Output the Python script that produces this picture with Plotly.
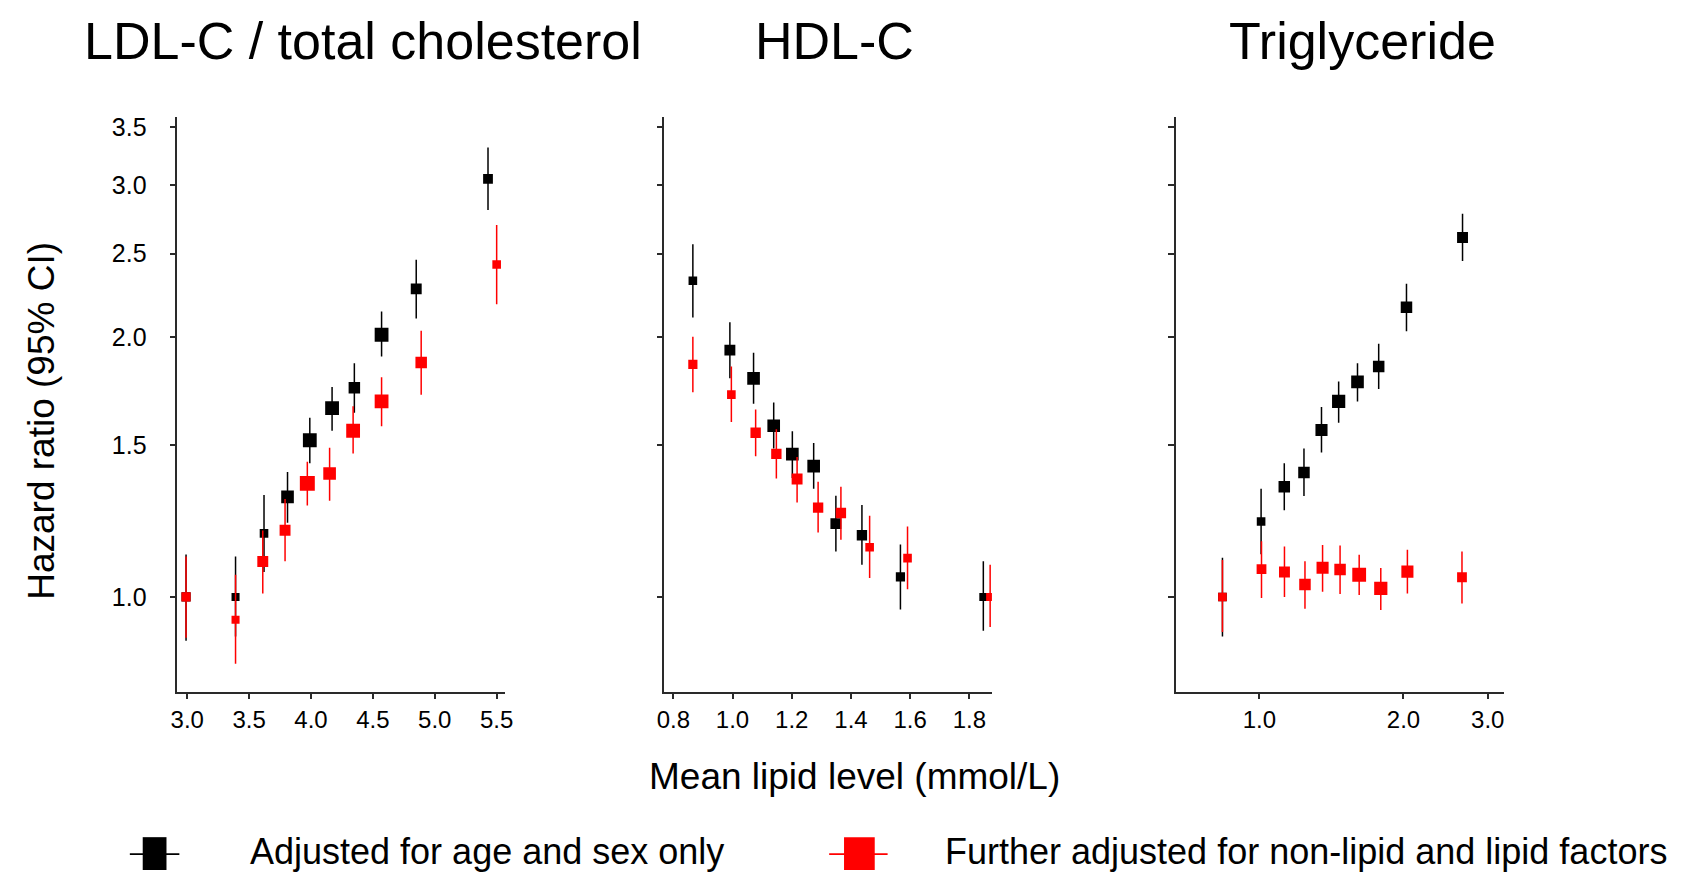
import plotly.graph_objects as go

W, H = 1694, 874

# ---------------- data ----------------
# LDL-C / total cholesterol
ldl_x_age = [2.99, 3.39, 3.62, 3.81, 3.99, 4.17, 4.35, 4.57, 4.85, 5.43]
ldl_hr_age = [1.00, 1.00, 1.185, 1.306, 1.519, 1.655, 1.747, 2.013, 2.275, 3.051]
ldl_lo_age = [0.89, 0.90, 1.069, 1.219, 1.429, 1.558, 1.635, 1.90, 2.102, 2.808]
ldl_hi_age = [1.12, 1.114, 1.313, 1.396, 1.613, 1.751, 1.865, 2.142, 2.459, 3.317]
ldl_w_age = [8, 7, 7.5, 11, 12, 12, 10, 12, 9.5, 8.5]

ldl_x_adj = [2.99, 3.39, 3.61, 3.79, 3.97, 4.15, 4.34, 4.57, 4.89, 5.50]
ldl_hr_adj = [1.00, 0.941, 1.099, 1.195, 1.354, 1.39, 1.558, 1.685, 1.869, 2.428]
ldl_lo_adj = [0.897, 0.837, 1.009, 1.10, 1.276, 1.293, 1.466, 1.577, 1.715, 2.183]
ldl_hi_adj = [1.114, 1.061, 1.194, 1.299, 1.434, 1.489, 1.663, 1.797, 2.034, 2.698]
ldl_w_adj = [8, 7, 9.5, 9.5, 13, 11, 12, 12, 10, 7.5]

# HDL-C
hdl_x_age = [0.866, 0.991, 1.071, 1.139, 1.202, 1.274, 1.349, 1.437, 1.567, 1.847]
hdl_hr_age = [2.325, 1.932, 1.792, 1.579, 1.464, 1.418, 1.216, 1.179, 1.055, 1.00]
hdl_lo_age = [2.108, 1.792, 1.674, 1.486, 1.374, 1.335, 1.129, 1.09, 0.967, 0.914]
hdl_hi_age = [2.563, 2.081, 1.919, 1.68, 1.556, 1.508, 1.31, 1.278, 1.15, 1.10]
hdl_w_age = [7.5, 9.5, 11, 11, 11, 11, 9.5, 9, 8, 7]

hdl_x_adj = [0.866, 0.996, 1.078, 1.148, 1.218, 1.289, 1.366, 1.463, 1.591, 1.870]
hdl_hr_adj = [1.86, 1.716, 1.55, 1.465, 1.37, 1.269, 1.251, 1.142, 1.109, 1.00]
hdl_lo_adj = [1.727, 1.595, 1.456, 1.372, 1.287, 1.188, 1.165, 1.052, 1.021, 0.923]
hdl_hi_adj = [2.002, 1.85, 1.649, 1.564, 1.453, 1.36, 1.342, 1.242, 1.207, 1.09]
hdl_w_adj = [8, 7.5, 9, 9, 9.5, 9, 9, 7.5, 7.5, 7]

# Triglyceride
tg_x_age = [0.837, 1.008, 1.127, 1.239, 1.348, 1.464, 1.603, 1.775, 2.029, 2.657]
tg_hr_age = [1.00, 1.223, 1.342, 1.394, 1.561, 1.685, 1.775, 1.849, 2.166, 2.609]
tg_lo_age = [0.90, 1.121, 1.26, 1.309, 1.47, 1.592, 1.685, 1.742, 2.032, 2.45]
tg_hi_age = [1.11, 1.335, 1.429, 1.486, 1.66, 1.777, 1.865, 1.965, 2.307, 2.78]
tg_w_age = [7.5, 7.5, 10, 10, 10.5, 11.5, 11, 10, 10, 9.5]

tg_x_adj = [0.837, 1.01, 1.128, 1.245, 1.355, 1.474, 1.616, 1.793, 2.038, 2.65]
tg_hr_adj = [1.00, 1.077, 1.069, 1.034, 1.081, 1.076, 1.061, 1.023, 1.07, 1.054]
tg_lo_adj = [0.911, 0.997, 1.0, 0.969, 1.014, 1.008, 1.005, 0.966, 1.009, 0.983]
tg_hi_adj = [1.104, 1.16, 1.144, 1.10, 1.149, 1.147, 1.119, 1.08, 1.134, 1.129]
tg_w_adj = [7.5, 8.5, 9.5, 10, 10.5, 10, 12, 11.5, 10.5, 8.5]

panel_titles = ["LDL-C / total cholesterol", "HDL-C", "Triglyceride"]
series_names = ["Adjusted for age and sex only", "Further adjusted for non-lipid and lipid factors"]
y_ticks = [1.0, 1.5, 2.0, 2.5, 3.0, 3.5]
x1_ticks = [3.0, 3.5, 4.0, 4.5, 5.0, 5.5]
x2_ticks = [0.8, 1.0, 1.2, 1.4, 1.6, 1.8]
x3_ticks = [1.0, 2.0, 3.0]

FONT = "Liberation Sans, Arial, Helvetica, sans-serif"
AXC = "#2a2a2a"
BLACK = "#000000"
RED = "#ff0000"
MSCALE = 1.15

fig = go.Figure()


def add_series(x, hr, lo, hi, w, color, xa, ya):
    fig.add_trace(go.Scatter(
        x=x, y=hr, mode="markers", xaxis=xa, yaxis=ya, showlegend=False,
        marker=dict(symbol="square", size=[s * MSCALE for s in w], color=color,
                    opacity=1, line=dict(width=0)),
        error_y=dict(type="data", symmetric=False,
                     array=[h - m for h, m in zip(hi, hr)],
                     arrayminus=[m - l for m, l in zip(hr, lo)],
                     color=color, thickness=1.5, width=0),
    ))


add_series(ldl_x_age, ldl_hr_age, ldl_lo_age, ldl_hi_age, ldl_w_age, BLACK, "x", "y")
add_series(ldl_x_adj, ldl_hr_adj, ldl_lo_adj, ldl_hi_adj, ldl_w_adj, RED, "x", "y")
add_series(hdl_x_age, hdl_hr_age, hdl_lo_age, hdl_hi_age, hdl_w_age, BLACK, "x2", "y2")
add_series(hdl_x_adj, hdl_hr_adj, hdl_lo_adj, hdl_hi_adj, hdl_w_adj, RED, "x2", "y2")
add_series(tg_x_age, tg_hr_age, tg_lo_age, tg_hi_age, tg_w_age, BLACK, "x3", "y3")
add_series(tg_x_adj, tg_hr_adj, tg_lo_adj, tg_hi_adj, tg_w_adj, RED, "x3", "y3")


def px(v):
    return v / W


def py(v):
    return 1 - v / H


ydom = [py(690.7), py(114)]
yrange = [-0.1096, 0.5556]

common_x = dict(showgrid=False, zeroline=False, showline=True, linecolor=AXC, linewidth=1.5,
                ticks="outside", ticklen=6, tickwidth=1.5, tickcolor=AXC,
                tickfont=dict(family=FONT, size=24, color="black"), ticklabelstandoff=0)
common_y = dict(showgrid=False, zeroline=False, showline=True, linecolor=AXC, linewidth=1.5,
                ticks="outside", ticklen=6, tickwidth=1.5, tickcolor=AXC, type="log",
                range=yrange, domain=ydom, tickvals=y_ticks,
                ticktext=[f"{v:.1f}" for v in y_ticks],
                tickfont=dict(family=FONT, size=25, color="black"))

layout = dict(
    width=W, height=H, margin=dict(l=0, r=0, t=0, b=0),
    paper_bgcolor="white", plot_bgcolor="white", showlegend=False,
    font=dict(family=FONT, color="black"),
    xaxis=dict(common_x, domain=[px(171), px(501.7)], range=[2.92, 5.567], anchor="y",
               tickvals=x1_ticks, ticktext=[f"{v:.1f}" for v in x1_ticks]),
    xaxis2=dict(common_x, domain=[px(662.7), px(993.3)], range=[0.77, 1.876], anchor="y2",
                tickvals=x2_ticks, ticktext=[f"{v:.1f}" for v in x2_ticks]),
    xaxis3=dict(common_x, domain=[px(1179.3), px(1510)], type="log", range=[-0.174, 0.5105],
                anchor="y3", tickvals=x3_ticks, ticktext=[f"{v:.1f}" for v in x3_ticks]),
    yaxis=dict(common_y, anchor="x", showticklabels=True, ticklabelstandoff=18),
    yaxis2=dict(common_y, anchor="x2", showticklabels=False),
    yaxis3=dict(common_y, anchor="x3", showticklabels=False),
)
fig.update_layout(**layout)

# panel titles
for t, cx in zip(panel_titles, [358, 834.6, 1367]):
    fig.add_annotation(text=t, x=px(cx), y=py(37), xref="paper", yref="paper",
                       xanchor="center", yanchor="middle", showarrow=False,
                       font=dict(family=FONT, size=52, color="black"))

# axis titles
fig.add_annotation(text="Hazard ratio (95% CI)", x=px(33), y=py(419), xref="paper", yref="paper",
                   textangle=-90, xanchor="center", yanchor="middle", showarrow=False,
                   font=dict(family=FONT, size=37, color="black"))
fig.add_annotation(text="Mean lipid level (mmol/L)", x=px(855), y=py(776), xref="paper", yref="paper",
                   xanchor="center", yanchor="middle", showarrow=False,
                   font=dict(family=FONT, size=37, color="black"))

# legend (custom)
for name, color, rx0, rx1, lx0, lx1, tx in [
    (series_names[0], BLACK, 136, 160, 123, 173, 243),
    (series_names[1], RED, 844, 875, 829, 888, 945),
]:
    fig.add_shape(type="line", xref="paper", yref="paper", x0=px(lx0), x1=px(lx1),
                  y0=py(854), y1=py(854), line=dict(color=color, width=1.6))
    fig.add_shape(type="rect", xref="paper", yref="paper", x0=px(rx0), x1=px(rx1),
                  y0=py(870), y1=py(837), fillcolor=color, line=dict(width=0))
    fig.add_annotation(text=name, x=px(tx), y=py(851), xref="paper", yref="paper",
                       xanchor="left", yanchor="middle", showarrow=False, borderpad=0,
                       font=dict(family=FONT, size=36, color="black"))

fig.write_html("out.html")
